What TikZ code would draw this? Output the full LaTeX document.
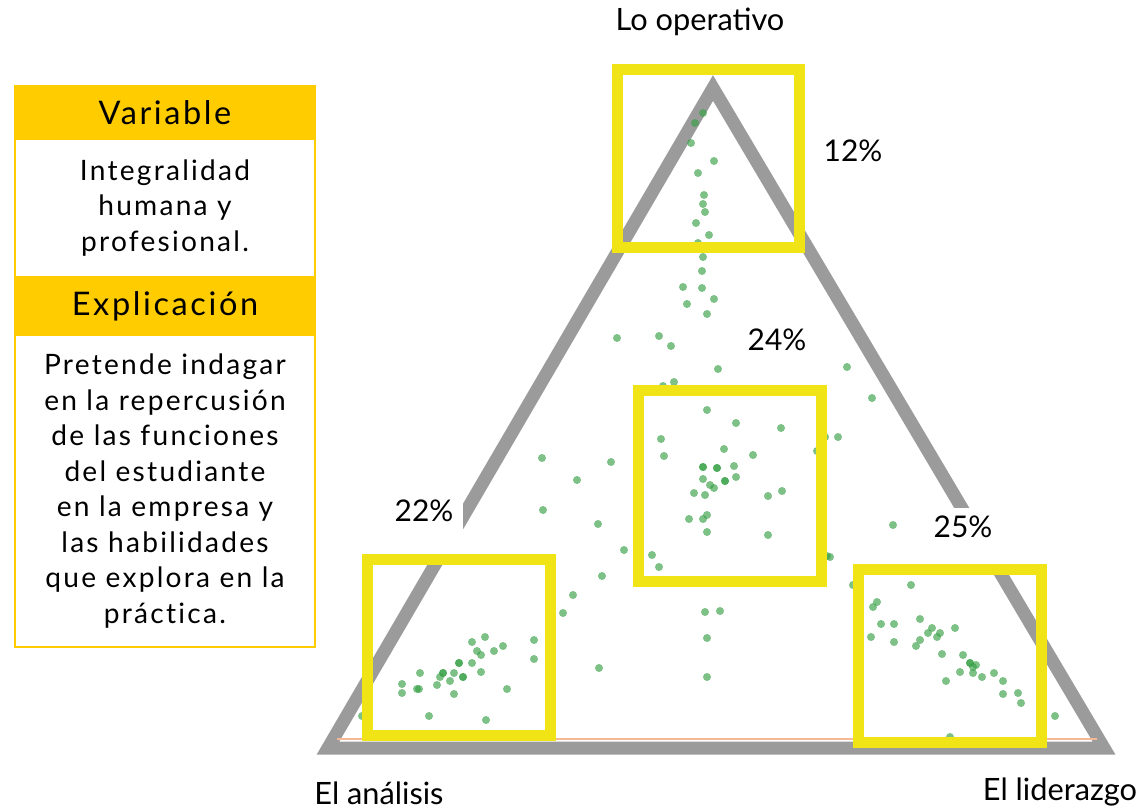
\documentclass[tikz,border=0pt]{standalone}
\usepackage{fontspec}
\setmainfont{Lato}
\newfontfamily\panelfont{Lato}[LetterSpace=8,Ligatures=NoCommon]
\usetikzlibrary{positioning}
\definecolor{trigray}{RGB}{155,155,155}
\definecolor{zoneyellow}{RGB}{240,228,22}
\definecolor{panelgold}{RGB}{255,204,0}
\definecolor{dotgreen}{RGB}{55,160,70}
\definecolor{baseorange}{RGB}{245,185,150}

\begin{document}
\begin{tikzpicture}[x=0.02cm,y=-0.02cm,
	corner/.style={font=\fontsize{17.5}{20}\selectfont,inner sep=0pt},
	pct/.style={font=\fontsize{17}{20}\selectfont,fill=white,inner sep=0pt,text height=0.45cm},
	zone/.style={draw=zoneyellow,line width=0.22cm},
	dot/.style={fill=dotgreen,opacity=.65},
	head/.style={fill=panelgold,draw=panelgold,line width=0.05cm,outer sep=0pt,minimum width=6cm,font=\panelfont\fontsize{18.5}{22}\selectfont},
	body/.style={fill=white,draw=panelgold,line width=0.05cm,outer sep=0pt,minimum width=6cm,align=center,font=\panelfont\fontsize{16}{20.2}\selectfont}]
	\useasboundingbox (0,0) rectangle (1145,809);

	% left panel
	\node[head,minimum height=1.06cm] at (165,112.5) (var) {Variable};
	\node[body,below=0pt of var,minimum height=2.76cm] (varbody)
	{Integralidad\\humana y\\profesional.};
	\node[head,below=0pt of varbody,minimum height=1.16cm] (exp) {Explicación};
	\node[body,below=0pt of exp,minimum height=6.24cm] (expbody)
	{Pretende indagar\\en la repercusión\\de las funciones\\del estudiante\\en la empresa y\\las habilidades\\que explora en la\\práctica.};

	% triangle
	\coordinate (top) at (713,88);
	\coordinate (left) at (328,748);
	\coordinate (right) at (1104,748);
	\draw[trigray,line width=0.26cm,line join=miter] (top) -- (left) -- (right) -- cycle;
	\draw[baseorange,line width=0.03cm] (337,739) -- (1097,739);

	% answers
	\foreach \x/\y in {703/113,695/123,691/143,714/161,698/173,704/195,703/204,705/212,696/223,
		709/235,698/243,703/257,702/271,683/287,702/288,714/299,687/304,707/314,
		617/338,659/336,671/346,718/369,847/367,674/382,663/386,872/398,
		707/410,736/423,781/428,838/437,825/437,661/439,724/449,664/456,753/455,817/451,
		703/467,703/467,717/468,717/468,734/466,703/479,725/481,725/481,736/477,710/485,714/488,
		694/493,705/495,768/496,782/491,707/515,703/519,689/519,707/532,768/535,
		624/550,652/555,659/567,827/556,
		542/458,611/462,577/480,543/510,598/524,602/576,573/595,563/613,534/640,534/659,599/668,
		705/612,720/611,707/638,707/677,893/525,830/557,
		472/642,485/637,503/646,494/651,477/651,481/655,459/663,459/663,472/663,443/673,443/673,454/673,
		463/677,463/677,481/672,420/673,440/677,450/681,402/684,402/693,417/689,419/689,437/685,
		454/694,507/689,362/716,429/716,486/720,
		911/585,853/585,873/607,877/602,920/619,881/624,894/624,955/628,932/628,928/633,940/633,
		937/637,871/637,894/642,920/640,916/646,942/654,963/655,970/663,970/663,976/665,973/667,
		973/673,960/672,982/677,994/673,1003/681,946/681,1003/694,1018/693,1021/703,1055/716,950/737}
	\fill[dot] (\x,\y) circle[radius=4];

	% labels
	\node[corner] at (700,22) (lo) {Lo operativo};
	\node[corner] at (379,793) (an) {El análisis};
	\node[corner] at (1060,792) (li) {El liderazgo};
	\node[pct] at (853,150) (p12) {12\%};
	\node[pct] at (777,339) (p24) {24\%};
	\node[pct,minimum width=1.56cm,minimum height=1.28cm,text depth=0.54cm] at (424,524) (p22) {22\%};
	\node[pct,minimum width=1.74cm,minimum height=1.16cm,text depth=0.42cm] at (963,537) (p25) {25\%};

	% zones
	\draw[zone] (617.5,69.5) rectangle (799.5,247);
	\draw[zone] (638.5,390.5) rectangle (821,581.5);
	\draw[zone] (367.5,559.5) rectangle (550,735.5);
	\draw[zone] (858.5,569.5) rectangle (1041.5,742.5);
\end{tikzpicture}
\end{document}
